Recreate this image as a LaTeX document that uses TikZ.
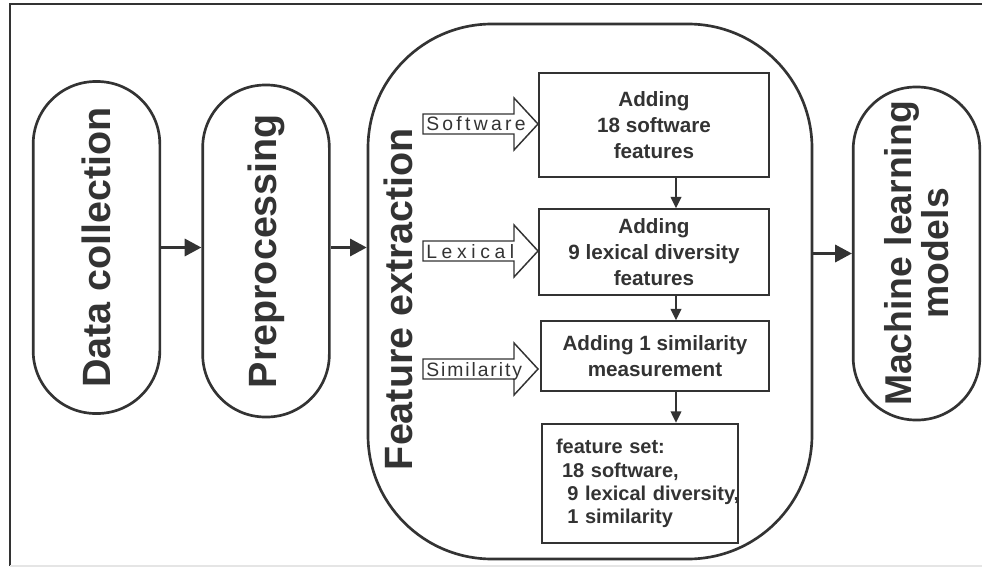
\documentclass[tikz,border=0pt]{standalone}
\usepackage{fontspec}
\setmainfont{Liberation Sans}
\usetikzlibrary{arrows.meta}
\definecolor{ink}{HTML}{333333}
\newcommand\stagefont{\fontsize{29.6}{27.75}\selectfont\bfseries}
\newcommand\mlfont{\fontsize{28}{27.75}\selectfont\bfseries}
\newcommand\boxfont{\fontsize{15.5}{19.5}\selectfont\bfseries}
\newcommand\setfont{\fontsize{15}{17.5}\selectfont\bfseries}
\newcommand\tagfont{\fontsize{14.5}{16}\selectfont}

\begin{document}
\begin{tikzpicture}[x=0.75pt,y=-0.75pt,color=ink,
        >={Triangle[length=12.5pt,width=13pt]},
        stage/.style={draw,line width=2pt,rounded corners=47pt,minimum width=95pt,
            minimum height=249pt,inner sep=0pt,font=\stagefont},
        addbox/.style={draw,line width=1.1pt,inner sep=0pt,align=center,
            font=\boxfont,minimum width=172.5pt},
        flow/.style={->,line width=1.7pt},
        feed/.style={-{Triangle[length=8.5pt,width=8pt]},line width=1.1pt},
        blockarrow/.style={draw,fill=white,line width=1.1pt,line join=miter}]
        \useasboundingbox (0,0) rectangle (982,567);

        % frame
        \draw[line width=2pt] (10,566) -- (10,4) -- (982,4);
        \draw[gray!20,line width=1.5pt] (10,566) -- (982,566);

        % stages
        \node[stage] (dc) at (96.5,247.5) {\rotatebox{90}{Data collection}};
        \node[stage] (pre) at (266,251) {\rotatebox{90}{Preprocessing}};
        \node[draw,line width=2pt,rounded corners=93pt,minimum width=333pt,
            minimum height=401.25pt] (fe) at (590,291.5) {};
        \node[rotate=90,font=\stagefont] (fetitle) at (398,299) {Feature extraction};
        \node[stage,minimum height=249.75pt] (ml) at (916.5,253.5) {};
        \node[rotate=90,align=center,font=\mlfont] (mltext) at (ml.center)
            {Machine learning\\models};

        \draw[flow] (dc.east) -- (dc.east -| pre.west);
        \draw[flow] (pre.east |- dc.east) -- (fe.west |- dc.east);
        \draw[flow] (fe.east |- ml.west) -- (ml.west);

        % feature boxes
        \node[addbox,minimum height=78pt] (b1) at (654,125)
            {Adding\\18 software\\features};
        \node[addbox,minimum height=64.5pt] (b2) at (654,252)
            {Adding\\9 lexical diversity\\features};
        \node[addbox,minimum width=171pt,minimum height=52.5pt] (b3) at (655,356)
            {Adding 1 similarity\\measurement};
        \node[draw,line width=1.9pt,minimum width=147pt,minimum height=89.25pt,
            text width=126pt,inner xsep=10.5pt,align=left,font=\setfont] (b4) at (640,483.5)
            {\mbox{feature set:}\\\mbox{\hspace*{4.5pt}18 software,}\\
             \mbox{\hspace*{8.5pt}9 lexical diversity,}\\\mbox{\hspace*{8.5pt}1 similarity}};

        \coordinate (ax) at (676,0);
        \draw[feed] (b1.south -| ax) -- (b2.north -| ax);
        \draw[feed] (b2.south -| ax) -- (b3.north -| ax);
        \draw[feed] (b3.south -| ax) -- (b4.north -| ax);

        % inputs
        \foreach \yy/\lbl/\ls in {124/Software/17,251/Lexical/24,369/Similarity/10}{
            \draw[blockarrow] (423,\yy-10) -- (514,\yy-10) -- (514,\yy-26) -- (538,\yy)
                -- (514,\yy+26) -- (514,\yy+10) -- (423,\yy+10) -- cycle;
            \node[anchor=base west,inner sep=0pt,font=\tagfont] (tag\lbl) at (426,\yy+7)
                {\addfontfeatures{LetterSpace=\ls}\lbl};
        }
    \end{tikzpicture}
\end{document}
